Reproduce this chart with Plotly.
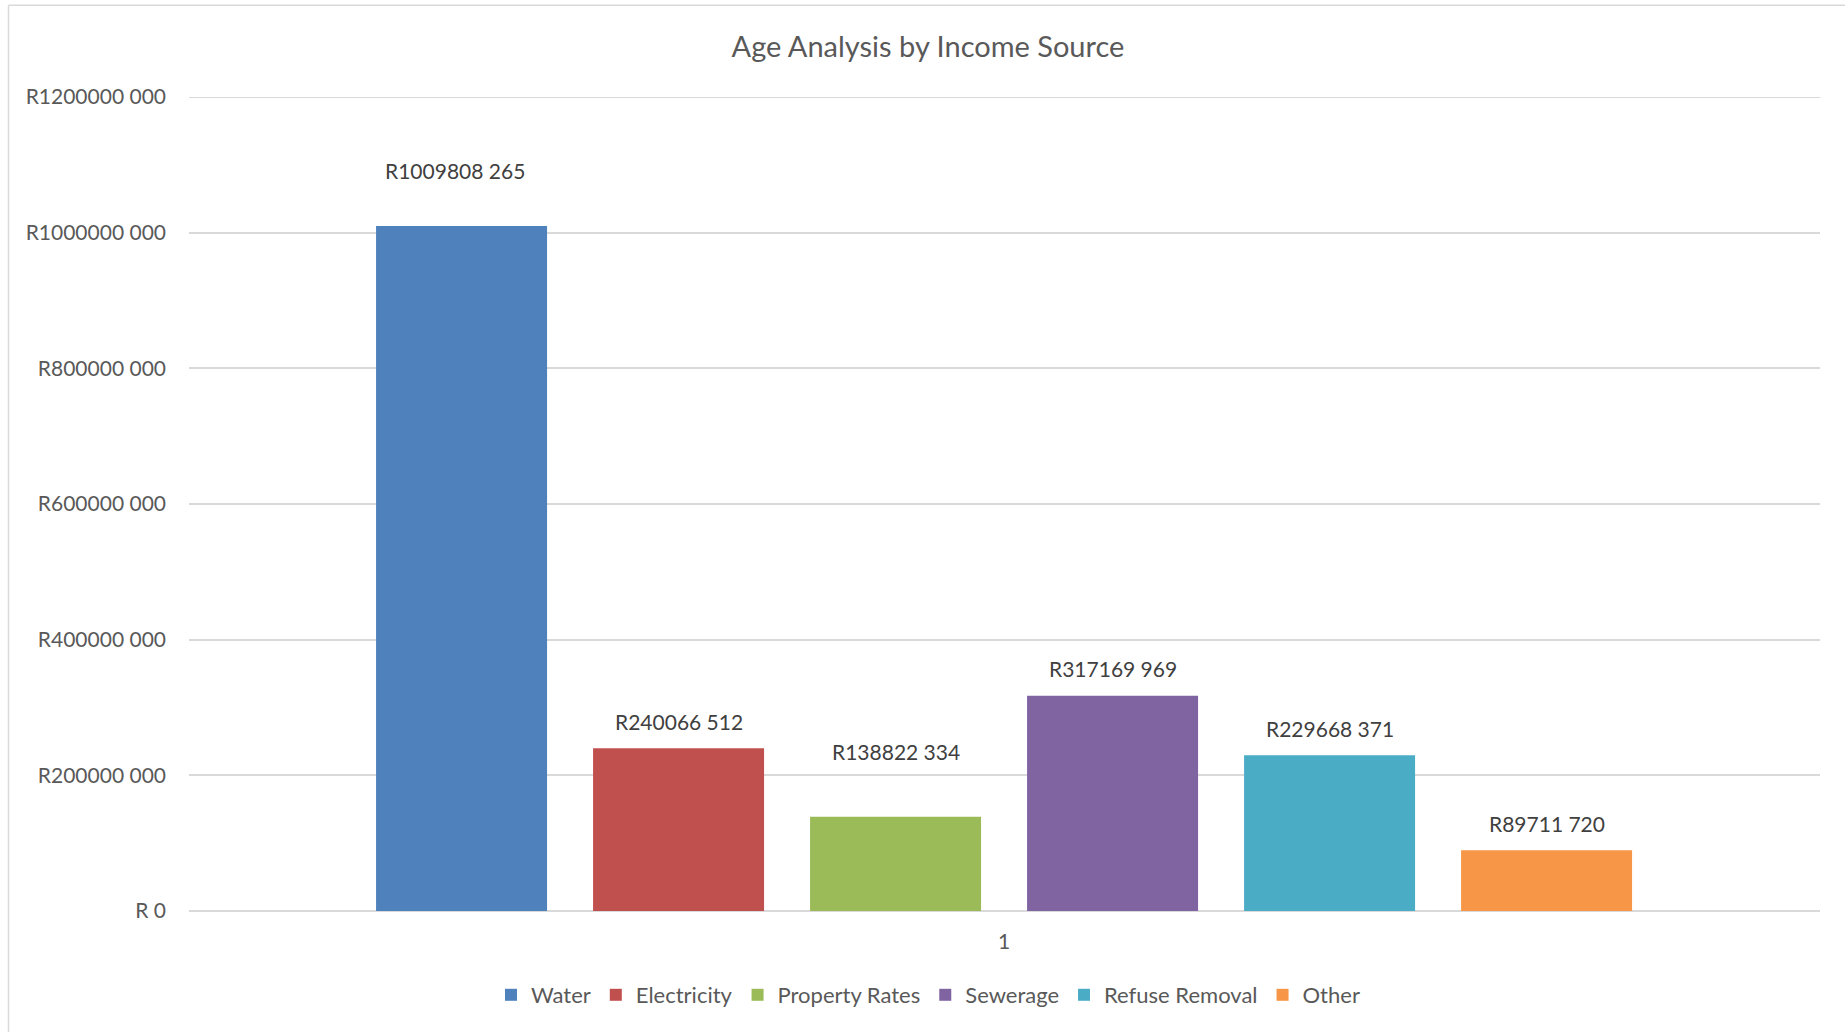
import plotly.graph_objects as go

categories = ["Water", "Electricity", "Property Rates", "Sewerage", "Refuse Removal", "Other"]
values = [1009808265, 240066512, 138822334, 317169969, 229668371, 89711720]
colors = ["#4F81BD", "#C0504D", "#9BBB59", "#8064A2", "#4BACC6", "#F79646"]
tick_values = [0, 200000000, 400000000, 600000000, 800000000, 1000000000, 1200000000]
x_tick_label = "1"
title_text = "Age Analysis by Income Source"

# label offsets (px) relative to bar tops, as placed in the original
label_shift_y = [56, 27, 65, 27, 27, 27]
label_shift_x = [-7, 0, 0, 0, 0, 0]


def fmt(v):
    if v == 0:
        return "R 0"
    return f"R{v // 1000} {v % 1000:03d}"


FONT = "Lato"
W, H = 1845, 1032
ML, MR, MT, MB = 189, 25, 97, 121
PW, PH = W - ML - MR, H - MT - MB

fig = go.Figure()
for i, (name, v, c) in enumerate(zip(categories, values, colors)):
    fig.add_trace(go.Bar(
        x=[i], y=[v], name=name, marker=dict(color=c, line=dict(width=0)),
        width=0.788, hoverinfo="skip",
    ))
    fig.add_annotation(
        x=i, y=v, text=fmt(v), showarrow=False, yanchor="middle",
        yshift=label_shift_y[i], xshift=label_shift_x[i],
        font=dict(family=FONT, size=21, color="#404040"),
    )

def px_x(p):
    return (p - ML) / PW

def px_y(p):
    return (H - MB - p) / PH

# top gridline (at the range edge)
fig.add_shape(type="line", xref="x domain", yref="y", x0=0, x1=1,
              y0=tick_values[-1], y1=tick_values[-1], layer="below",
              line=dict(color="#D9D9D9", width=2))
# chart-area border (left and top edges)
fig.add_shape(type="line", xref="paper", yref="paper",
              x0=px_x(8.5), x1=px_x(W + 5), y0=px_y(5.3), y1=px_y(5.3),
              line=dict(color="#D9D9D9", width=1.5))
fig.add_shape(type="line", xref="paper", yref="paper",
              x0=px_x(8.5), x1=px_x(8.5), y0=px_y(5.3), y1=px_y(H + 5),
              line=dict(color="#D9D9D9", width=1.5))

fig.update_layout(
    width=W, height=H,
    margin=dict(l=ML, r=MR, t=MT, b=MB),
    paper_bgcolor="white", plot_bgcolor="white",
    font=dict(family=FONT, color="#595959"),
    title=dict(text=title_text, x=928 / W, xanchor="center", xref="container",
               y=1 - 47 / H, yanchor="middle", yref="container",
               font=dict(family=FONT, size=29, color="#595959")),
    showlegend=True,
    legend=dict(orientation="h", x=px_x(928), xanchor="center",
                y=px_y(995), yanchor="middle",
                font=dict(family=FONT, size=22, color="#595959"),
                itemwidth=30, traceorder="normal", itemclick=False),
    barmode="overlay",
)
fig.update_xaxes(
    range=[-1.256, 6.26], tickmode="array", tickvals=[2.5], ticktext=[x_tick_label],
    showgrid=False, zeroline=False, showline=False, ticks="",
    tickfont=dict(family=FONT, size=21, color="#595959"), ticklabelstandoff=16,
    fixedrange=True,
)
fig.update_yaxes(
    range=[0, 1200000000], tickmode="array", tickvals=tick_values,
    ticktext=[fmt(v) for v in tick_values],
    showgrid=True, gridcolor="#D9D9D9", gridwidth=2,
    zeroline=True, zerolinecolor="#D9D9D9", zerolinewidth=2,
    showline=False, ticks="",
    tickfont=dict(family=FONT, size=21, color="#595959"), ticklabelstandoff=22,
    fixedrange=True,
)

fig.write_html("out.html", config={"displayModeBar": False})
